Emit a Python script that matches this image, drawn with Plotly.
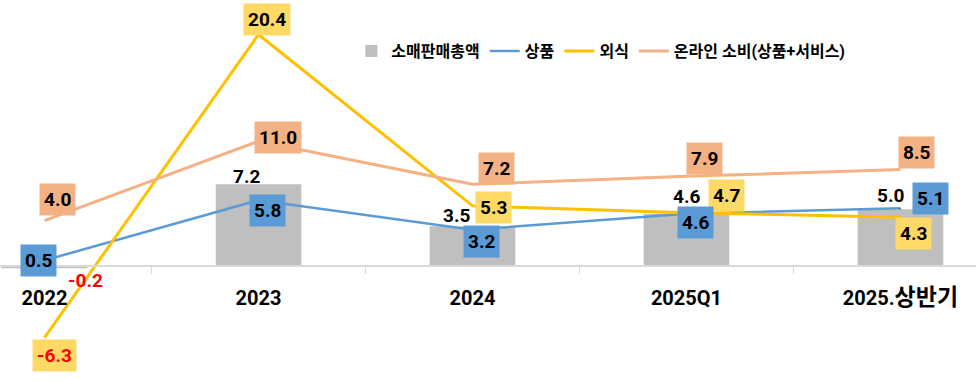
import re
import plotly.graph_objects as go

# ---- data ----
categories = ["2022", "2023", "2024", "2025Q1", "2025.상반기"]
retail_total = [-0.2, 7.2, 3.5, 4.6, 5.0]   # 소매판매총액 (bars)
goods = [0.5, 5.8, 3.2, 4.6, 5.1]           # 상품
dining = [-6.3, 20.4, 5.3, 4.7, 4.3]        # 외식
online = [4.0, 11.0, 7.2, 7.9, 8.5]         # 온라인 소비(상품+서비스)
series_names = ["소매판매총액", "상품", "외식", "온라인 소비(상품+서비스)"]

# ---- styling ----
GRAY, BLUE, YELLOW, ORANGE = "#BFBFBF", "#5B9BD5", "#FFC000", "#F4B183"
YELLOW_BOX = "#FFD966"
FONT = "Roboto, Noto Sans CJK KR, sans-serif"
LABEL_SIZE = 19

# label pixel offsets (xshift, yshift)
goods_off = [(-6, 0), (9, -10), (9, -12), (9, -9), (30, 10)]
dining_off = [(10, -18), (8, 15), (21, -2), (40, 17), (13, -16)]
online_off = [(13, 21), (19, 4), (24, 16), (18, 18), (16, 17)]
bar_off = [(41, -12), (-12, 8), (-16, 11), (0, 17), (-10, 14)]

y_min, y_max = -10.13, 23.44
x_min, x_max = -0.208, 4.353

fig = go.Figure()
fig.add_trace(go.Bar(x=categories, y=retail_total, name=series_names[0],
                     marker=dict(color=GRAY, line=dict(width=0)), width=0.4))
fig.add_trace(go.Scatter(x=categories, y=goods, name=series_names[1], mode="lines",
                         line=dict(color=BLUE, width=2.5)))
fig.add_trace(go.Scatter(x=categories, y=dining, name=series_names[2], mode="lines",
                         line=dict(color=YELLOW, width=3)))
fig.add_trace(go.Scatter(x=categories, y=online, name=series_names[3], mode="lines",
                         line=dict(color=ORANGE, width=3)))

annotations = []


def fmt(v):
    return f"{v:.1f}"


def boxed(values, offs, bg):
    for i, (v, (dx, dy)) in enumerate(zip(values, offs)):
        annotations.append(dict(
            x=i, y=v, xref="x", yref="y", text=fmt(v), showarrow=False,
            xshift=dx, yshift=dy, bgcolor=bg, borderpad=4,
            font=dict(family=FONT, size=LABEL_SIZE, weight="bold",
                      color="#FF0000" if v < 0 else "black")))


boxed(online, online_off, ORANGE)
boxed(dining, dining_off, YELLOW_BOX)
boxed(goods, goods_off, BLUE)

for i, (v, (dx, dy)) in enumerate(zip(retail_total, bar_off)):
    if i == len(categories) - 1:
        annotations.append(dict(
            x=i, y=v, xref="x", yref="y", text=fmt(v), showarrow=True,
            arrowhead=0, arrowwidth=1, arrowcolor="black", ax=dx, ay=-dy,
            standoff=0,
            font=dict(family=FONT, size=LABEL_SIZE, weight="bold", color="black")))
    else:
        annotations.append(dict(
            x=i, y=v, xref="x", yref="y", text=fmt(v), showarrow=False,
            xshift=dx, yshift=dy,
            font=dict(family=FONT, size=LABEL_SIZE, weight="bold",
                      color="#FF0000" if v < 0 else "black")))

# Hangul glyphs in the tick labels are drawn a little larger, as in the original
tick_text = [re.sub(r"([\uac00-\ud7a3]+)", r"<span style='font-size:23px'>\1</span>", c)
             for c in categories]

fig.update_layout(
    width=976, height=381,
    margin=dict(l=0, r=0, t=0, b=0),
    plot_bgcolor="white", paper_bgcolor="white",
    showlegend=True,
    legend=dict(orientation="h", x=0.36, y=0.866, xanchor="left", yanchor="middle",
                font=dict(family=FONT, size=16, weight="bold", color="black"),
                itemwidth=30, bgcolor="rgba(0,0,0,0)"),
    annotations=annotations,
    xaxis=dict(type="category", range=[x_min, x_max], anchor="free",
               position=(0 - y_min) / (y_max - y_min),
               tickmode="array", tickvals=categories, ticktext=tick_text,
               showline=True, linecolor="#D9D9D9", linewidth=1.5,
               ticks="outside", tickson="boundaries", ticklen=7, tickcolor="#D9D9D9",
               ticklabelstandoff=14,
               tickfont=dict(family=FONT, size=20, weight="bold", color="black"),
               showgrid=False, zeroline=False),
    yaxis=dict(range=[y_min, y_max], visible=False, showgrid=False, zeroline=False),
)

fig.write_html("out.html", config={"displayModeBar": False},
               post_script="document.body.style.margin='0';")
